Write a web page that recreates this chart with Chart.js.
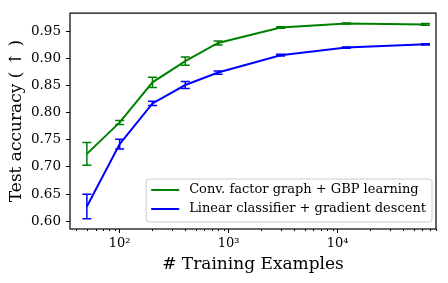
<!DOCTYPE html>
<html>
<head>
<meta charset="utf-8">
<script src="https://cdn.jsdelivr.net/npm/chart.js@4"></script>
<style>
  body { margin: 0; background: #fff; }
  #wrap { width: 448px; height: 283px; }
</style>
</head>
<body>
<div id="wrap"><canvas id="acc"></canvas></div>
<script>
// number of training examples (log x axis)
const trainSizes = [50, 100, 200, 400, 800, 3000, 12000, 64000];

// conv. factor graph + GBP learning
const gbpAcc = [0.724, 0.782, 0.856, 0.895, 0.9285, 0.957, 0.9645, 0.9627];
const gbpErr = [0.021, 0.0036, 0.0095, 0.0075, 0.0035, 0.0015, 0.001, 0.0015];

// linear classifier + gradient descent
const linAcc = [0.627, 0.742, 0.817, 0.851, 0.874, 0.906, 0.920, 0.926];
const linErr = [0.0225, 0.009, 0.004, 0.0065, 0.003, 0.0015, 0.001, 0.001];

const yTicks = [0.60, 0.65, 0.70, 0.75, 0.80, 0.85, 0.90, 0.95];
const xMajorTicks = [100, 1000, 10000];
const xMinorTicks = [40, 50, 60, 70, 80, 90,
                     200, 300, 400, 500, 600, 700, 800, 900,
                     2000, 3000, 4000, 5000, 6000, 7000, 8000, 9000,
                     20000, 30000, 40000, 50000, 60000, 70000, 80000];

const FONT = "'DejaVu Serif', serif";
const sup = { "2": "\u00b2", "3": "\u00b3", "4": "\u2074" };

// vertical error bars with caps
const errorBars = {
    id: "errorBars",
    afterDatasetsDraw(chart) {
        const { ctx, scales: { x, y } } = chart;
        ctx.save();
        chart.data.datasets.forEach(ds => {
            ctx.strokeStyle = ds.borderColor;
            ctx.lineWidth = 1.5;
            ds.data.forEach((p, i) => {
                const e = ds.errors[i];
                const px = x.getPixelForValue(p.x);
                const top = y.getPixelForValue(p.y + e);
                const bot = y.getPixelForValue(p.y - e);
                ctx.beginPath();
                ctx.moveTo(px, top); ctx.lineTo(px, bot);
                ctx.moveTo(px - 4.5, top); ctx.lineTo(px + 4.5, top);
                ctx.moveTo(px - 4.5, bot); ctx.lineTo(px + 4.5, bot);
                ctx.stroke();
            });
        });
        ctx.restore();
    }
};

// frame, minor ticks and legend box
const decorations = {
    id: "decorations",
    afterDraw(chart) {
        const { ctx, chartArea: a, scales: { x } } = chart;
        ctx.save();
        ctx.strokeStyle = "#000";
        ctx.lineWidth = 1;
        xMinorTicks.forEach(v => {
            const px = Math.round(x.getPixelForValue(v)) + 0.5;
            ctx.beginPath();
            ctx.moveTo(px, a.bottom); ctx.lineTo(px, a.bottom + 2);
            ctx.stroke();
        });
        ctx.lineWidth = 1.2;
        ctx.strokeRect(a.left, a.top, a.right - a.left, a.bottom - a.top);

        // legend
        ctx.font = "13px " + FONT;
        const labels = chart.data.datasets.map(d => d.label);
        const tw = Math.max(...labels.map(t => ctx.measureText(t).width));
        const w = 43 + tw + 6, h = 43;
        const bx = a.right - 4 - w, by = a.bottom - 7 - h;
        ctx.beginPath();
        ctx.roundRect(bx, by, w, h, 3);
        ctx.fillStyle = "rgba(255,255,255,0.8)";
        ctx.fill();
        ctx.strokeStyle = "#cccccc";
        ctx.lineWidth = 1;
        ctx.stroke();
        chart.data.datasets.forEach((d, i) => {
            const ry = by + 11 + i * 19;
            ctx.strokeStyle = d.borderColor;
            ctx.lineWidth = 2;
            ctx.beginPath();
            ctx.moveTo(bx + 5, ry); ctx.lineTo(bx + 33, ry);
            ctx.stroke();
            ctx.fillStyle = "#000";
            ctx.textBaseline = "middle";
            ctx.fillText(d.label, bx + 43, ry);
        });
        ctx.restore();
    }
};

const toPts = ys => trainSizes.map((n, i) => ({ x: n, y: ys[i] }));

new Chart(document.getElementById("acc"), {
    type: "line",
    data: {
        datasets: [{
            label: "Conv. factor graph + GBP learning",
            data: toPts(gbpAcc),
            errors: gbpErr,
            borderColor: "#008000",
            borderWidth: 2,
            pointRadius: 0,
            tension: 0
        }, {
            label: "Linear classifier + gradient descent",
            data: toPts(linAcc),
            errors: linErr,
            borderColor: "#0000ff",
            borderWidth: 2,
            pointRadius: 0,
            tension: 0
        }]
    },
    options: {
        responsive: true,
        maintainAspectRatio: false,
        animation: false,
        layout: { padding: { top: 10, right: 12, left: 0, bottom: 0 } },
        plugins: { legend: { display: false }, tooltip: { enabled: false } },
        scales: {
            x: {
                type: "logarithmic",
                min: 35,
                max: 80000,
                afterBuildTicks: s => { s.ticks = xMajorTicks.map(v => ({ value: v })); },
                afterFit: s => { s.height = 54; },
                ticks: {
                    color: "#000",
                    font: { family: FONT, size: 13 },
                    padding: 3,
                    maxRotation: 0,
                    callback: v => "10" + sup[String(Math.round(Math.log10(v)))]
                },
                grid: { drawOnChartArea: false, tickLength: 4, tickColor: "#000" },
                border: { display: false },
                title: {
                    display: true,
                    text: "# Training Examples",
                    color: "#000",
                    font: { family: FONT, size: 17 },
                    padding: { top: 0, bottom: 8 }
                }
            },
            y: {
                min: 0.5855,
                max: 0.9836,
                afterBuildTicks: s => { s.ticks = yTicks.map(v => ({ value: v })); },
                afterFit: s => { s.width = 70; },
                ticks: {
                    color: "#000",
                    font: { family: FONT, size: 13.5 },
                    padding: 5,
                    callback: v => v.toFixed(2)
                },
                grid: { drawOnChartArea: false, tickLength: 4, tickColor: "#000" },
                border: { display: false },
                title: {
                    display: true,
                    text: "Test accuracy ( \u2191 )",
                    color: "#000",
                    font: { family: FONT, size: 17 },
                    padding: { top: 6, bottom: 0 }
                }
            }
        }
    },
    plugins: [errorBars, decorations]
});
</script>
</body>
</html>
